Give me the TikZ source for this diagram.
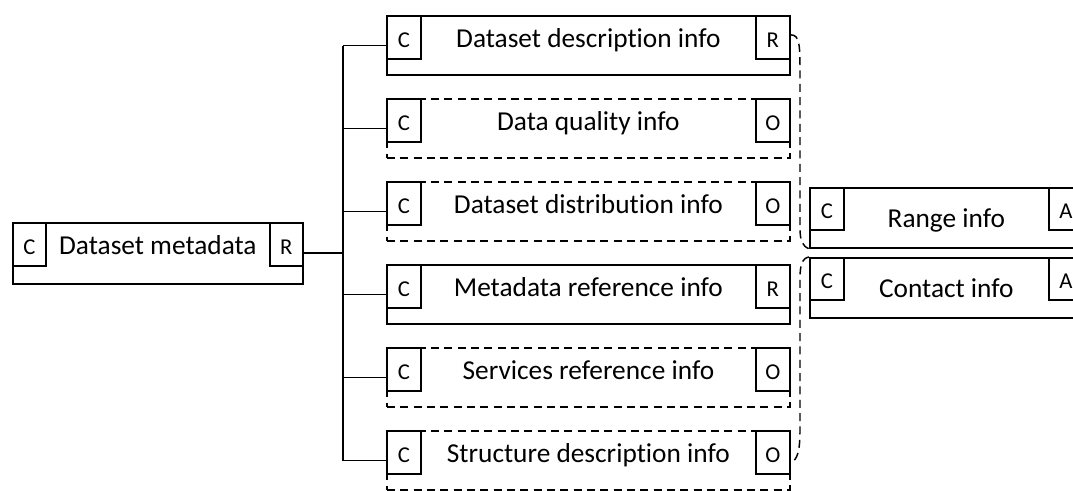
\documentclass[tikz,border=0pt]{standalone}
\usepackage{fontspec}
\setmainfont{Carlito}[Ligatures=CommonOff]
\usetikzlibrary{positioning}

\tikzset{
	infobox/.style={rectangle,draw,line width=1.3pt,inner sep=0pt,anchor=north west,minimum width=302.25pt,minimum height=44.5pt},
	optbox/.style={infobox,dash pattern=on 6pt off 4pt},
	tagbox/.style={rectangle,draw,fill=white,line width=1.3pt,inner sep=0pt,minimum width=25.5pt,minimum height=32.25pt,text height=15pt,text depth=0pt,font=\fontsize{17}{19}\selectfont},
	boxtext/.style={inner sep=0pt,anchor=base,yshift=-7.5pt,font=\fontsize{20.5}{24}\selectfont},
	link/.style={line width=1.3pt},
	ref/.style={line width=1.1pt,dash pattern=on 6pt off 4pt}
}

\begin{document}
\begin{tikzpicture}[x=0.75pt,y=-0.75pt]
		\useasboundingbox (0,0) rectangle (1073,491);
		\clip (0,0) rectangle (1073,491);
%		\draw[help lines] (0,0) grid (1073,491);
		\path (343,0) coordinate (trunk);
		\path (800,0) coordinate (bus);

		% root
		\path (12,222) node(meta) [infobox,minimum width=217.5pt,minimum height=45.75pt] {};
		\path (meta.north west) node(meta_c) [tagbox,anchor=north west,minimum width=24.75pt] {C};
		\path (meta.north east) node(meta_r) [tagbox,anchor=north east,minimum width=24.75pt] {R};
		\path (meta_c.east) -- node(meta_txt) [boxtext] {Dataset metadata} (meta_r.west);

		% children
		\path (386,15) node(desc) [infobox] {};
		\path (desc.north west) node(desc_c) [tagbox,anchor=north west] {C};
		\path (desc.north east) node(desc_r) [tagbox,anchor=north east] {R};
		\path (desc_c.east) -- node(desc_txt) [boxtext] {Dataset description info} (desc_r.west);

		\path (386,98) node(quality) [optbox] {};
		\path (quality.north west) node(quality_c) [tagbox,anchor=north west] {C};
		\path (quality.north east) node(quality_o) [tagbox,anchor=north east] {O};
		\path (quality_c.east) -- node(quality_txt) [boxtext] {Data quality info} (quality_o.west);

		\path (386,181) node(distrib) [optbox] {};
		\path (distrib.north west) node(distrib_c) [tagbox,anchor=north west] {C};
		\path (distrib.north east) node(distrib_o) [tagbox,anchor=north east] {O};
		\path (distrib_c.east) -- node(distrib_txt) [boxtext] {Dataset distribution info} (distrib_o.west);

		\path (386,264) node(mref) [infobox] {};
		\path (mref.north west) node(mref_c) [tagbox,anchor=north west] {C};
		\path (mref.north east) node(mref_r) [tagbox,anchor=north east] {R};
		\path (mref_c.east) -- node(mref_txt) [boxtext] {Metadata reference info} (mref_r.west);

		\path (386,347) node(sref) [optbox] {};
		\path (sref.north west) node(sref_c) [tagbox,anchor=north west] {C};
		\path (sref.north east) node(sref_o) [tagbox,anchor=north east] {O};
		\path (sref_c.east) -- node(sref_txt) [boxtext] {Services reference info} (sref_o.west);

		\path (386,430) node(struct) [optbox] {};
		\path (struct.north west) node(struct_c) [tagbox,anchor=north west] {C};
		\path (struct.north east) node(struct_o) [tagbox,anchor=north east] {O};
		\path (struct_c.east) -- node(struct_txt) [boxtext] {Structure description info} (struct_o.west);

		% shared
		\path (809,187) node(range) [infobox,minimum width=204.75pt,minimum height=45pt] {};
		\path (range.north west) node(range_c) [tagbox,anchor=north west,minimum height=31.5pt] {C};
		\path (range.north east) node(range_a) [tagbox,anchor=north east,minimum height=31.5pt] {A};
		\path (range_c.east |- range.center) -- node(range_txt) [boxtext] {Range info} (range_a.west |- range.center);

		\path (809,257) node(contact) [infobox,minimum width=204.75pt,minimum height=45pt] {};
		\path (contact.north west) node(contact_c) [tagbox,anchor=north west,minimum height=31.5pt] {C};
		\path (contact.north east) node(contact_a) [tagbox,anchor=north east,minimum height=31.5pt] {A};
		\path (contact_c.east |- contact.center) -- node(contact_txt) [boxtext] {Contact info} (contact_a.west |- contact.center);

		% tree
		\draw[link] (meta.east) -- (trunk |- meta.east);
		\draw[link] (trunk |- desc.west) -- (trunk |- struct.west);
		\draw[link] (trunk |- desc.west) -- (desc.west);
		\draw[link] (trunk |- quality.west) -- (quality.west);
		\draw[link] (trunk |- distrib.west) -- (distrib.west);
		\draw[link] (trunk |- mref.west) -- (mref.west);
		\draw[link] (trunk |- sref.west) -- (sref.west);
		\draw[link] (trunk |- struct.west) -- (struct.west);

		% references
		\draw[ref] (desc_r.8) .. controls (bus |- desc_r.8) and (bus |- desc.center) .. (bus |- desc.south)
			-- (800,228) .. controls (800,240) and (802,246) .. (range.south west);
		\draw[ref] (contact.north west) .. controls (802,258) and (800,266) .. (800,278)
			-- (bus |- struct.north) .. controls (bus |- struct_o.east) and (797,460) .. (struct_o.-30);
	\end{tikzpicture}
\end{document}
